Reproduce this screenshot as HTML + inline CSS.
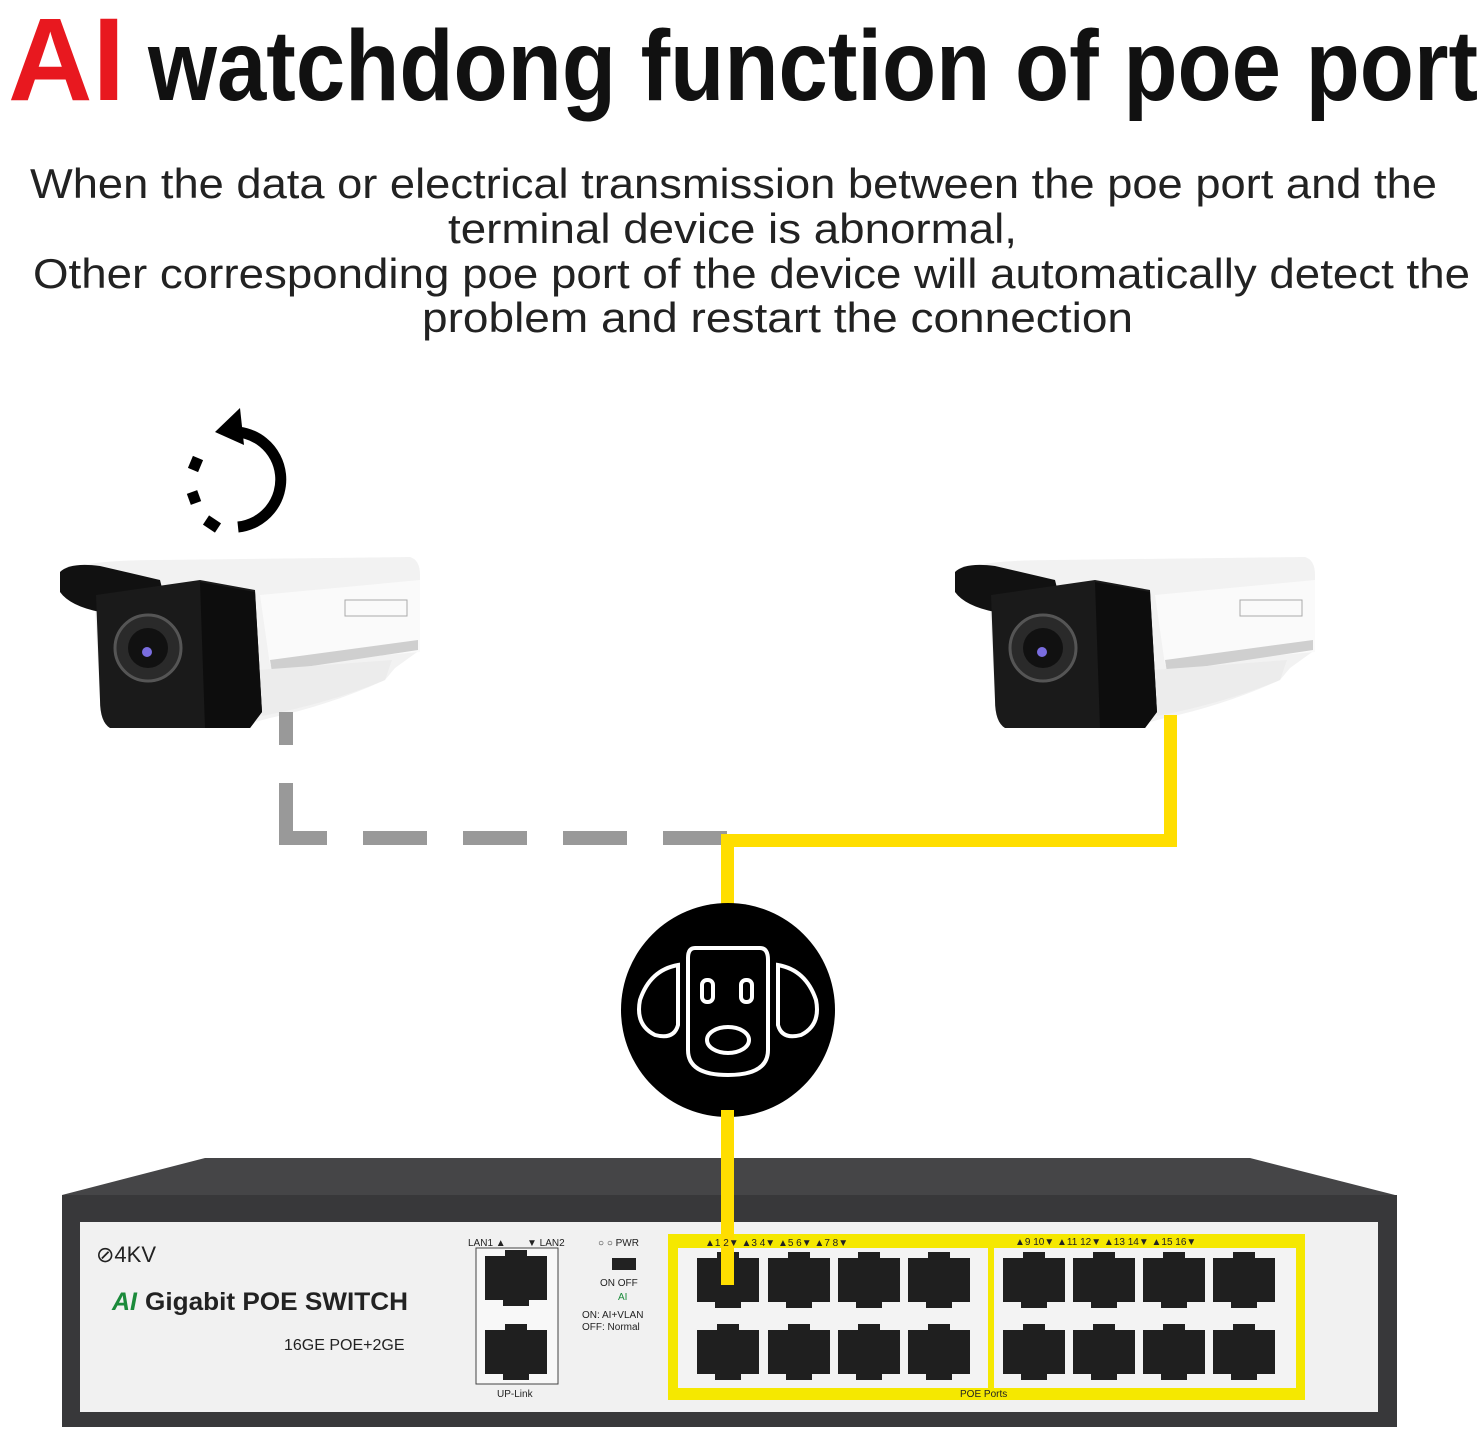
<!DOCTYPE html>
<html><head><meta charset="utf-8"><style>html,body{margin:0;padding:0;background:#fff}svg{display:block}</style></head>
<body>
<svg width="1482" height="1429" viewBox="0 0 1482 1429" xmlns="http://www.w3.org/2000/svg" font-family="Liberation Sans, sans-serif">
<defs>
<g id="cam">
  <path d="M60,572 Q80,560 160,560 L410,557 Q420,560 420,575 L420,650 L395,668 L385,680 Q330,705 270,718 L255,722 L250,728 L110,728 Q100,720 100,700 L95,610 Q70,605 60,590 Z" fill="#f2f2f2"/>
  <path d="M260,595 L420,580 L420,652 L270,665 Z" fill="#fafafa"/>
  <path d="M270,660 L418,640 L418,650 L272,672 Z" fill="#cfcfcf"/>
  <path d="M258,670 L392,660 L385,680 Q330,703 262,716 Z" fill="#ececec"/>
  <path d="M60,572 Q70,562 100,566 L160,580 L165,600 L100,612 Q70,606 60,592 Z" fill="#111"/>
  <path d="M96,595 L200,580 L255,590 L262,712 L250,728 L110,728 Q100,722 100,700 Z" fill="#1a1a1a"/>
  <path d="M200,582 L255,592 L262,712 L250,728 L205,728 Z" fill="#0d0d0d"/>
  <circle cx="148" cy="648" r="33" fill="#2a2a2a" stroke="#555" stroke-width="3"/>
  <circle cx="148" cy="648" r="20" fill="#111"/>
  <circle cx="147" cy="652" r="5" fill="#7a6de0"/>
  <rect x="345" y="600" width="62" height="16" fill="none" stroke="#aaa" stroke-width="1"/>
</g>
<g id="port"><path d="M0,0 H62 V44 H44 V50 H18 V44 H0 Z" fill="#1f1f1f"/><rect x="20" y="-6" width="22" height="8" fill="#1f1f1f"/></g>
</defs>

<text x="8" y="100" font-size="118" font-weight="bold" fill="#e8181f" textLength="117" lengthAdjust="spacingAndGlyphs">AI</text>
<text x="148" y="100" font-size="100" font-weight="bold" fill="#111" textLength="1330" lengthAdjust="spacingAndGlyphs">watchdong function of poe port</text>

<g font-size="42" fill="#222">
<text x="30" y="198" textLength="1407" lengthAdjust="spacingAndGlyphs">When the data or electrical transmission between the poe port and the</text>
<text x="448" y="243" textLength="569" lengthAdjust="spacingAndGlyphs">terminal device is abnormal,</text>
<text x="33" y="288" textLength="1437" lengthAdjust="spacingAndGlyphs">Other corresponding poe port of the device will automatically detect the</text>
<text x="422" y="332" textLength="711" lengthAdjust="spacingAndGlyphs">problem and restart the connection</text>
</g>

<!-- refresh icon -->
<g fill="none" stroke="#000" stroke-width="11">
  <path d="M228,432 A47,47 0 1 1 238,527" />
  <path d="M218,528 L206,520" /><path d="M196,503 L192,492"/><path d="M193,470 L198,458"/>
</g>
<path d="M215,432 L240,408 L244,445 Z" fill="#000"/>

<use href="#cam"/>
<use href="#cam" transform="translate(895,0)"/>

<!-- gray dashed -->
<g fill="#999">
<rect x="279" y="712" width="14" height="33"/>
<rect x="279" y="783" width="14" height="62"/>
<rect x="279" y="831" width="48" height="14"/>
<rect x="363" y="831" width="64" height="14"/>
<rect x="463" y="831" width="64" height="14"/>
<rect x="563" y="831" width="64" height="14"/>
<rect x="663" y="831" width="64" height="14"/>
</g>
<!-- yellow -->
<g fill="#ffde00">
<rect x="1164" y="715" width="13" height="132"/>
<rect x="721" y="834" width="456" height="13"/>
<rect x="721" y="834" width="13" height="75"/>
</g>

<!-- dog -->
<circle cx="728" cy="1010" r="107" fill="#000"/>
<g fill="none" stroke="#fff" stroke-width="4">
  <path d="M695,948 H760 Q768,948 768,960 V1050 Q768,1075 728,1075 Q688,1075 688,1050 V958 Q688,948 695,948 Z"/>
  <path d="M678,965 L678,1025 Q674,1040 655,1035 Q635,1025 640,1000 Q650,970 678,965 Z"/>
  <path d="M778,965 L778,1025 Q782,1040 801,1035 Q821,1025 816,1000 Q806,970 778,965 Z"/>
  <rect x="702" y="980" width="11" height="22" rx="5"/>
  <rect x="741" y="980" width="11" height="22" rx="5"/>
  <ellipse cx="728" cy="1040" rx="21" ry="13"/>
</g>

<!-- switch -->
<path d="M62,1195 L205,1158 L1250,1158 L1395,1195 Z" fill="#454547"/>
<rect x="62" y="1195" width="1335" height="232" fill="#38383a"/>
<rect x="80" y="1222" width="1298" height="190" fill="#f1f1f1"/>
<rect x="668" y="1234" width="637" height="166" fill="#f5e800"/>
<rect x="678" y="1248" width="310" height="140" fill="#f3f3f3"/>
<rect x="994" y="1248" width="302" height="140" fill="#f3f3f3"/>
<rect x="476" y="1248" width="82" height="136" fill="#f8f8f8" stroke="#444" stroke-width="1"/>
<use href="#port" x="485" y="1256"/>
<use href="#port" x="485" y="1330"/>
<g>
<use href="#port" x="697" y="1258"/><use href="#port" x="768" y="1258"/><use href="#port" x="838" y="1258"/><use href="#port" x="908" y="1258"/>
<use href="#port" x="1003" y="1258"/><use href="#port" x="1073" y="1258"/><use href="#port" x="1143" y="1258"/><use href="#port" x="1213" y="1258"/>
<use href="#port" x="697" y="1330"/><use href="#port" x="768" y="1330"/><use href="#port" x="838" y="1330"/><use href="#port" x="908" y="1330"/>
<use href="#port" x="1003" y="1330"/><use href="#port" x="1073" y="1330"/><use href="#port" x="1143" y="1330"/><use href="#port" x="1213" y="1330"/>
</g>
<rect x="721" y="1110" width="13" height="175" fill="#ffde00"/>
<text x="96" y="1262" font-size="22" fill="#222">⊘4KV</text>
<text x="112" y="1310" font-size="25" font-weight="bold" fill="#1a8a3a" font-style="italic">AI</text>
<text x="145" y="1310" font-size="25" font-weight="bold" fill="#222" textLength="263" lengthAdjust="spacingAndGlyphs">Gigabit POE SWITCH</text>
<text x="284" y="1350" font-size="16" fill="#222">16GE POE+2GE</text>
<g font-size="10" fill="#222">
<text x="468" y="1246">LAN1 ▲</text><text x="527" y="1246">▼ LAN2</text>
<text x="497" y="1397">UP-Link</text>
<text x="598" y="1246">○ ○ PWR</text>
<text x="600" y="1286">ON OFF</text>
<text x="618" y="1300" fill="#1a8a3a">AI</text>
<text x="582" y="1318">ON: AI+VLAN</text>
<text x="582" y="1330">OFF: Normal</text>
<text x="960" y="1397">POE Ports</text>
<text x="705" y="1246">▲1 2▼ ▲3 4▼ ▲5 6▼ ▲7 8▼</text>
<text x="1015" y="1245">▲9 10▼ ▲11 12▼ ▲13 14▼ ▲15 16▼</text>
</g>
<rect x="612" y="1258" width="24" height="12" fill="#222"/>
</svg>
</body></html>
